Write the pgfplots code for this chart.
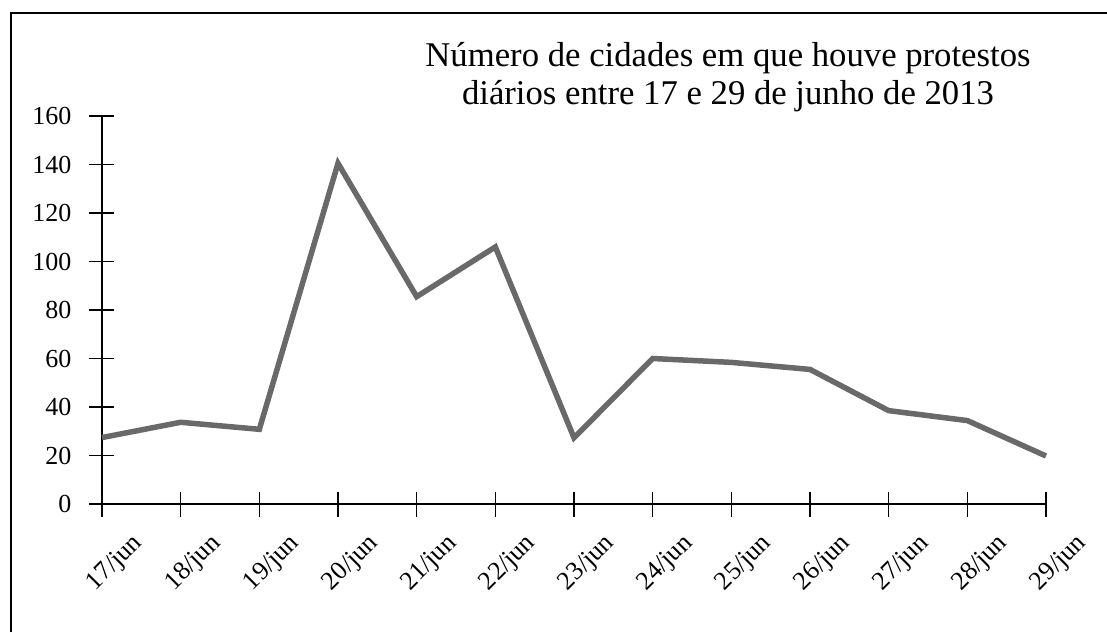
\documentclass[border=0pt]{standalone}
\usepackage{pgfplots}
\pgfplotsset{compat=1.18}
\usepackage{fontspec}
\setmainfont{Liberation Serif}
\definecolor{linegray}{RGB}{105,105,105}
\begin{document}
\begin{tikzpicture}
\path[use as bounding box] (-102pt,-128pt) rectangle (1005pt,504pt);
\draw[line width=2pt] (-91pt,-128pt) -- (-91pt,491pt) -- (1005pt,491pt);
\begin{axis}[
  at={(0pt,0pt)}, anchor=south west,
  scale only axis, width=944pt, height=388pt,
  xmin=0, xmax=12, ymin=0, ymax=160,
  axis x line=bottom, axis y line=left,
  axis line style={-, line width=1.6pt, black},
  xtick={0,...,12},
  xticklabels={17/jun,18/jun,19/jun,20/jun,21/jun,22/jun,23/jun,24/jun,25/jun,26/jun,27/jun,28/jun,29/jun},
  ytick={0,20,...,160},
  tick align=center, major tick length=25pt,
  tick style={black, line width=1.4pt},
  tick label style={font=\fontsize{26}{26}\selectfont},
  /pgf/number format/assume math mode=true,
  yticklabel style={anchor=east, inner sep=0pt, xshift=-18pt},
  xticklabel style={inner sep=0pt, xshift=13pt, yshift=-47pt, rotate=45, anchor=center},
  clip=false,
]
\addplot[linegray, line width=5.5pt, line join=miter] coordinates {
(0,27.4) (1,33.7) (2,30.8) (3,140.5) (4,85.5) (5,106) (6,27.3) (7,60) (8,58.4) (9,55.5) (10,38.5) (11,34.4) (12,19.8)
};
\end{axis}
\node[anchor=base, font=\fontsize{34.7}{34.7}\selectfont] at (626pt,437pt) {Número de cidades em que houve protestos};
\node[anchor=base, font=\fontsize{34.7}{34.7}\selectfont] at (626pt,399pt) {diários entre 17 e 29 de junho de 2013};
\end{tikzpicture}
\end{document}
